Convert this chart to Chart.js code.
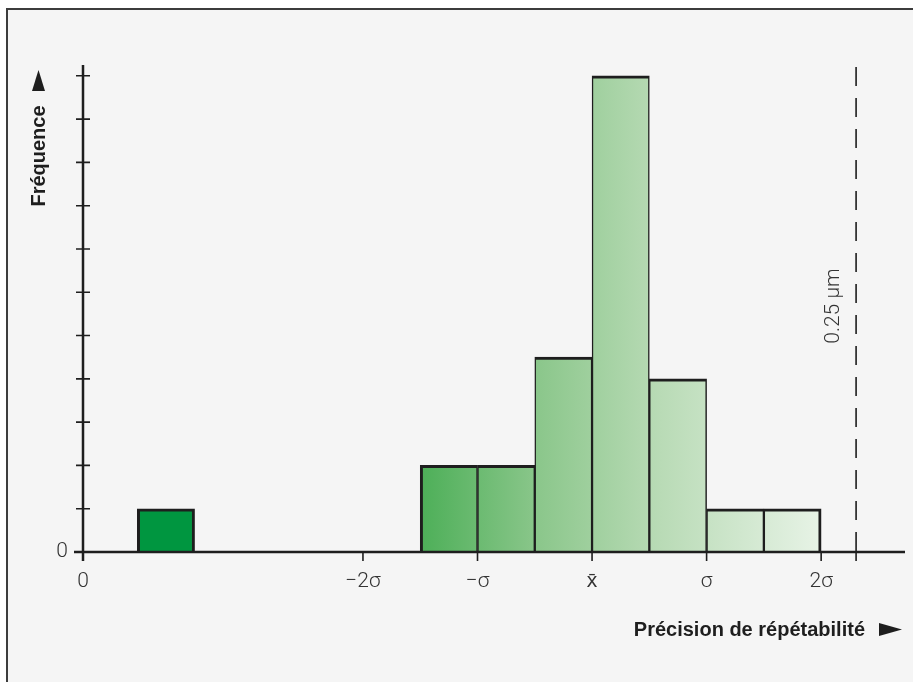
<!DOCTYPE html>
<html>
<head>
<meta charset="utf-8">
<script src="https://cdn.jsdelivr.net/npm/chart.js@4/dist/chart.umd.min.js"></script>
<style>
  html, body { margin: 0; padding: 0; background: #fff; }
  #wrap { width: 913px; height: 682px; }
</style>
</head>
<body>
<div id="wrap"><canvas id="histo" width="913" height="682"></canvas></div>
<script>
// bins are half a sigma wide, x in sigma units around the mean
var binStarts = [-3.97, -1.5, -1, -0.5, 0, 0.5, 1, 1.5];
var binWidth = 0.5;
var frequencies = [1, 2, 2, 4.5, 11, 4, 1, 1];

var xTickValues = [-2, -1, 0, 1, 2];
var xTickLabels = ['\u22122\u03c3', '\u2212\u03c3', 'x\u0304', '\u03c3', '2\u03c3'];
var yTickValues = [1, 2, 3, 4, 5, 6, 7, 8, 9, 10, 11];
var limitValue = 2.305;
var limitLabel = '0.25 \u00b5m';
var xTitle = 'Pr\u00e9cision de r\u00e9p\u00e9tabilit\u00e9';
var yTitle = 'Fr\u00e9quence';

var xMin = -4.444, xMax = 2.732;
var yMax = 11.25;

var ink = '#1e1e1e';
var tickFont = '300 21px Roboto, "Liberation Sans", sans-serif';
var titleFont = 'bold 20px "Liberation Sans", Arial, sans-serif';

var points = [];
for (var i = 0; i < binStarts.length; i++) {
   points.push({ x: binStarts[i] + binWidth / 2, y: frequencies[i] });
}

function hasNeighbour(i, dir) {
   var edge = dir < 0 ? binStarts[i] : binStarts[i] + binWidth;
   for (var j = 0; j < binStarts.length; j++) {
      if (j === i) continue;
      if (dir < 0 && Math.abs(binStarts[j] + binWidth - edge) < 1e-6) return true;
      if (dir > 0 && Math.abs(binStarts[j] - edge) < 1e-6) return true;
   }
   return false;
}

var frame = {
   id: 'frame',
   beforeDraw: function (chart) {
      var c = chart.ctx;
      c.save();
      c.fillStyle = '#ffffff';
      c.fillRect(0, 0, chart.width, chart.height);
      c.fillStyle = '#f5f5f5';
      c.fillRect(6, 8, chart.width, chart.height);
      c.strokeStyle = '#3c3c3c';
      c.lineWidth = 2;
      c.beginPath();
      c.moveTo(7, chart.height);
      c.lineTo(7, 9);
      c.lineTo(chart.width, 9);
      c.stroke();
      c.restore();
   }
};

var axes = {
   id: 'axes',
   afterDatasetsDraw: function (chart) {
      var c = chart.ctx;
      var xs = chart.scales.x, ys = chart.scales.y;
      var area = chart.chartArea;
      var x0 = xs.getPixelForValue(xMin);
      var y0 = ys.getPixelForValue(0);
      c.save();
      c.strokeStyle = ink;
      c.fillStyle = ink;

      // dashed limit line
      var lx = xs.getPixelForValue(limitValue);
      c.lineWidth = 1.6;
      c.setLineDash([19, 12]);
      c.beginPath();
      c.moveTo(lx, area.top + 2);
      c.lineTo(lx, y0);
      c.stroke();
      c.setLineDash([]);

      // axis lines
      c.lineWidth = 2.5;
      c.beginPath();
      c.moveTo(x0, area.top);
      c.lineTo(x0, y0 + 9);
      c.moveTo(x0 - 9, y0);
      c.lineTo(area.right, y0);
      c.stroke();

      // y ticks crossing the axis
      c.lineWidth = 1.6;
      c.beginPath();
      yTickValues.forEach(function (v) {
         var py = ys.getPixelForValue(v);
         c.moveTo(x0 - 7, py);
         c.lineTo(x0 + 7, py);
      });
      // x ticks under the axis
      xTickValues.concat([limitValue]).forEach(function (v) {
         var px = xs.getPixelForValue(v);
         c.moveTo(px, y0);
         c.lineTo(px, y0 + 9);
      });
      c.stroke();

      // tick labels
      c.fillStyle = '#333';
      c.font = tickFont;
      c.textAlign = 'center';
      c.textBaseline = 'middle';
      xTickLabels.forEach(function (t, k) {
         c.fillText(t, xs.getPixelForValue(xTickValues[k]), y0 + 30);
      });
      c.fillText('0', x0, y0 + 30);
      c.textAlign = 'right';
      c.fillText('0', x0 - 15, y0);

      // limit label
      c.save();
      c.translate(lx - 22, 306);
      c.rotate(-Math.PI / 2);
      c.textAlign = 'center';
      c.fillText(limitLabel, 0, 0);
      c.restore();

      // titles
      c.fillStyle = ink;
      c.font = titleFont;
      c.textAlign = 'right';
      c.fillText(xTitle, 865, 630);
      c.beginPath();
      c.moveTo(879, 623);
      c.lineTo(902, 629.5);
      c.lineTo(879, 636);
      c.closePath();
      c.fill();

      c.save();
      c.translate(39, 156);
      c.rotate(-Math.PI / 2);
      c.textAlign = 'center';
      c.fillText(yTitle, 0, 0);
      c.restore();
      c.beginPath();
      c.moveTo(32, 91);
      c.lineTo(38.5, 70);
      c.lineTo(45, 91);
      c.closePath();
      c.fill();

      c.restore();
   }
};

new Chart(document.getElementById('histo'), {
   type: 'bar',
   data: {
      datasets: [{
         data: points,
         barPercentage: 1,
         categoryPercentage: 1,
         borderColor: ink,
         borderSkipped: 'start',
         borderWidth: function (ctx) {
            var i = ctx.dataIndex;
            return {
               top: 3,
               left: hasNeighbour(i, -1) ? 1.5 : 3,
               right: hasNeighbour(i, 1) ? 1.5 : 3,
               bottom: 0
            };
         },
         backgroundColor: function (ctx) {
            var chart = ctx.chart;
            if (!chart.chartArea) return '#9fd09d';
            if (!hasNeighbour(ctx.dataIndex, -1) && !hasNeighbour(ctx.dataIndex, 1)) return '#009640';
            var gx0 = chart.scales.x.getPixelForValue(binStarts[1]);
            var gx1 = chart.scales.x.getPixelForValue(binStarts[binStarts.length - 1] + binWidth);
            var g = chart.ctx.createLinearGradient(gx0, 0, gx1, 0);
            g.addColorStop(0, '#4daf58');
            g.addColorStop(0.3, '#8cc78c');
            g.addColorStop(0.6, '#b9dbb6');
            g.addColorStop(1, '#e7f3e6');
            return g;
         }
      }]
   },
   options: {
      responsive: false,
      animation: false,
      layout: { padding: { left: 83, right: 8, top: 65, bottom: 130 } },
      plugins: { legend: { display: false }, tooltip: { enabled: false } },
      scales: {
         x: { type: 'linear', min: xMin, max: xMax, offset: false, display: false },
         y: { type: 'linear', min: 0, max: yMax, display: false }
      }
   },
   plugins: [frame, axes]
});
</script>
</body>
</html>
